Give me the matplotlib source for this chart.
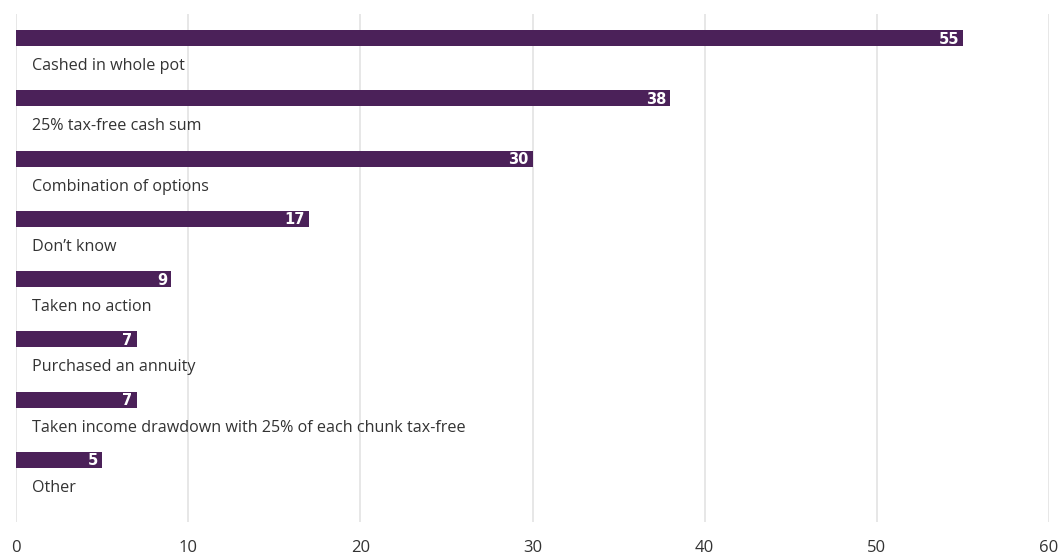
import matplotlib
matplotlib.use("Agg")
import matplotlib.pyplot as plt

categories = [
    "Cashed in whole pot",
    "25% tax-free cash sum",
    "Combination of options",
    "Don\u2019t know",
    "Taken no action",
    "Purchased an annuity",
    "Taken income drawdown with 25% of each chunk tax-free",
    "Other",
]
values = [55, 38, 30, 17, 9, 7, 7, 5]
xticks = [0, 10, 20, 30, 40, 50, 60]

bar_color = "#4b2159"
text_color = "#333333"
grid_color = "#e3e3e3"

plt.rcParams["font.family"] = ["Open Sans", "DejaVu Sans"]

fig = plt.figure(figsize=(10.59, 5.56), dpi=100)
ax = fig.add_axes([16 / 1059, 34 / 556, 1033 / 1059, 508 / 556])

ypos = list(range(len(categories)))
ax.barh(ypos, values, height=0.265, color=bar_color, zorder=2)

for y, name, v in zip(ypos, categories, values):
    ax.annotate(name, xy=(0, y), xytext=(16, -28), textcoords="offset pixels",
                ha="left", va="center", fontsize=11.6, color=text_color)
    # value inside the bar end
    ax.annotate(str(v), xy=(v, y), xytext=(-4, -1), textcoords="offset pixels",
                ha="right", va="center", fontsize=10.5, fontweight="bold",
                family=["DejaVu Sans"], color="white", zorder=3)

ax.set_xlim(0, 60)
ax.set_ylim(8.03, -0.4)
ax.set_xticks(xticks)
ax.set_yticks([])
ax.grid(axis="x", color=grid_color, linewidth=1.2, zorder=0)
ax.tick_params(axis="x", length=0, pad=13, labelsize=12, labelcolor=text_color)
for s in ax.spines.values():
    s.set_visible(False)

fig.savefig("out.png", dpi=100)
